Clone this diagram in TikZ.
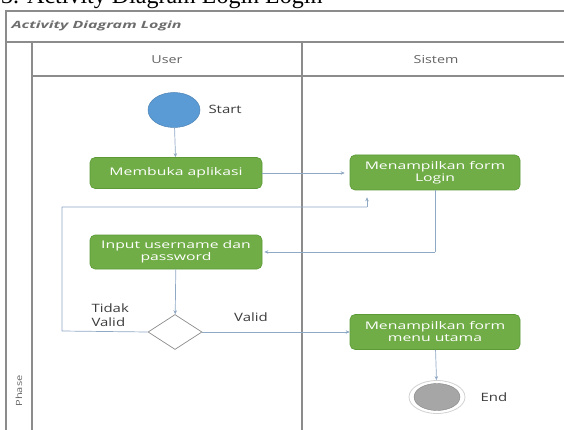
\documentclass[tikz,border=0pt]{standalone}
\usepackage{fontspec}
\setmainfont{Liberation Serif}
\newfontfamily\uisans[FakeStretch=1.3]{Open Sans}
\newfontfamily\uiwide[FakeStretch=1.5]{Open Sans}
\newfontfamily\uititle[FakeStretch=1.6]{Open Sans}
\usetikzlibrary{arrows.meta,shapes.geometric}
\definecolor{actgreen}{HTML}{70AD47}
\definecolor{actgreenline}{HTML}{5C9A36}
\definecolor{startblue}{HTML}{5B9BD5}
\definecolor{framegray}{HTML}{8C8C8C}
\definecolor{flowline}{HTML}{8FA8C4}
\definecolor{labelgray}{HTML}{3C3C3C}
\definecolor{endgray}{HTML}{A6A6A6}
\tikzset{
  frameline/.style={draw=framegray,line width=1.2pt},
  lanetext/.style={font=\uisans\fontsize{11}{12}\selectfont,text=labelgray!80},
  action/.style={rectangle,rounded corners=5pt,fill=actgreen,draw=actgreenline,
    line width=0.6pt,text=white,align=center,inner sep=2pt,
    font=\uiwide\fontsize{10.5}{12}\selectfont},
  flow/.style={draw=flowline,line width=0.7pt,-{Stealth[length=4pt,width=3.5pt]}},
  flowplain/.style={draw=flowline,line width=0.7pt},
  note/.style={font=\uisans\fontsize{11.5}{13.5}\selectfont,text=labelgray,align=left}
}
\begin{document}
\begin{tikzpicture}[x=1pt,y=-1pt]
\useasboundingbox (0,0) rectangle (564,430);
% caption line above the figure
\node[anchor=base west,inner sep=0pt,font=\fontsize{24}{26}\selectfont] (caption) at (1,4) {3. Activity Diagram Login Login};
% swimlane frame
\draw[frameline] (6,440) -- (6,11) -- (570,11);
\draw[frameline] (6,42) -- (570,42);
\draw[frameline] (32,76) -- (570,76);
\draw[frameline] (32,42) -- (32,440);
\draw[frameline] (302,42) -- (302,440);
\node[anchor=west,font=\uititle\itshape\bfseries\fontsize{10}{12}\selectfont,text=labelgray!75] (title) at (8,26) {Activity Diagram Login};
\node[lanetext] (laneuser) at (167,60) {User};
\node[lanetext] (lanesys) at (436,60) {Sistem};
\node[lanetext,rotate=90,anchor=west,font=\uisans\fontsize{8.5}{9}\selectfont] (phase) at (19,410) {Phase};
% activity nodes
\node[ellipse,fill=startblue,draw=startblue!85!black,line width=0.5pt,minimum width=52pt,minimum height=35pt,inner sep=0pt] (start) at (174,110) {};
\node[note,anchor=west] (startlbl) at (205,109) {Start};
\node[action,minimum width=172pt,minimum height=31pt] (buka) at (176,173) {Membuka aplikasi};
\node[action,minimum width=170pt,minimum height=35pt] (formlogin) at (435,172.5) {Menampilkan form\\Login};
\node[action,minimum width=172pt,minimum height=34pt] (input) at (176,252) {Input username dan\\password};
\node[diamond,draw=framegray,fill=white,line width=0.7pt,minimum width=54pt,minimum height=35pt,inner sep=0pt] (cek) at (175,332) {};
\node[note,anchor=west] (tidak) at (88,315) {Tidak\\Valid};
\node[note] (valid) at (251,317) {Valid};
\node[action,minimum width=170pt,minimum height=35pt] (menu) at (435,332) {Menampilkan form\\menu utama};
\node[ellipse,draw=endgray!50,fill=white,line width=0.8pt,minimum width=56pt,minimum height=33pt,inner sep=0pt] (endring) at (437,397) {};
\node[ellipse,fill=endgray,draw=endgray!80!black,line width=0.4pt,minimum width=46pt,minimum height=27pt,inner sep=0pt] (end) at (437,397) {};
\node[note,anchor=west] (endlbl) at (477,397) {End};
% connectors
\coordinate (loopleft) at (62,331);
\coordinate (loopup) at (62,207);
\coordinate (loopright) at (367,207);
\coordinate (downturn) at (435,252);
\draw[flow] (start) -- (buka);
\draw[flow,shorten >=5pt] (buka.east) -- (buka.east -| formlogin.west);
\draw[flowplain] (formlogin.south) -- (downturn);
\draw[flow,shorten >=2pt] (downturn) -- (input.east);
\draw[flow] (input) -- (cek);
\draw[flowplain] (cek.west) -- (loopleft) -- (loopup) -- (loopright);
\draw[flow,shorten >=7pt] (loopright) -- (loopright |- formlogin.south);
\draw[flow] (cek.east) -- (cek.east -| menu.west);
\draw[flow] (menu) -- (endring);
\end{tikzpicture}
\end{document}
